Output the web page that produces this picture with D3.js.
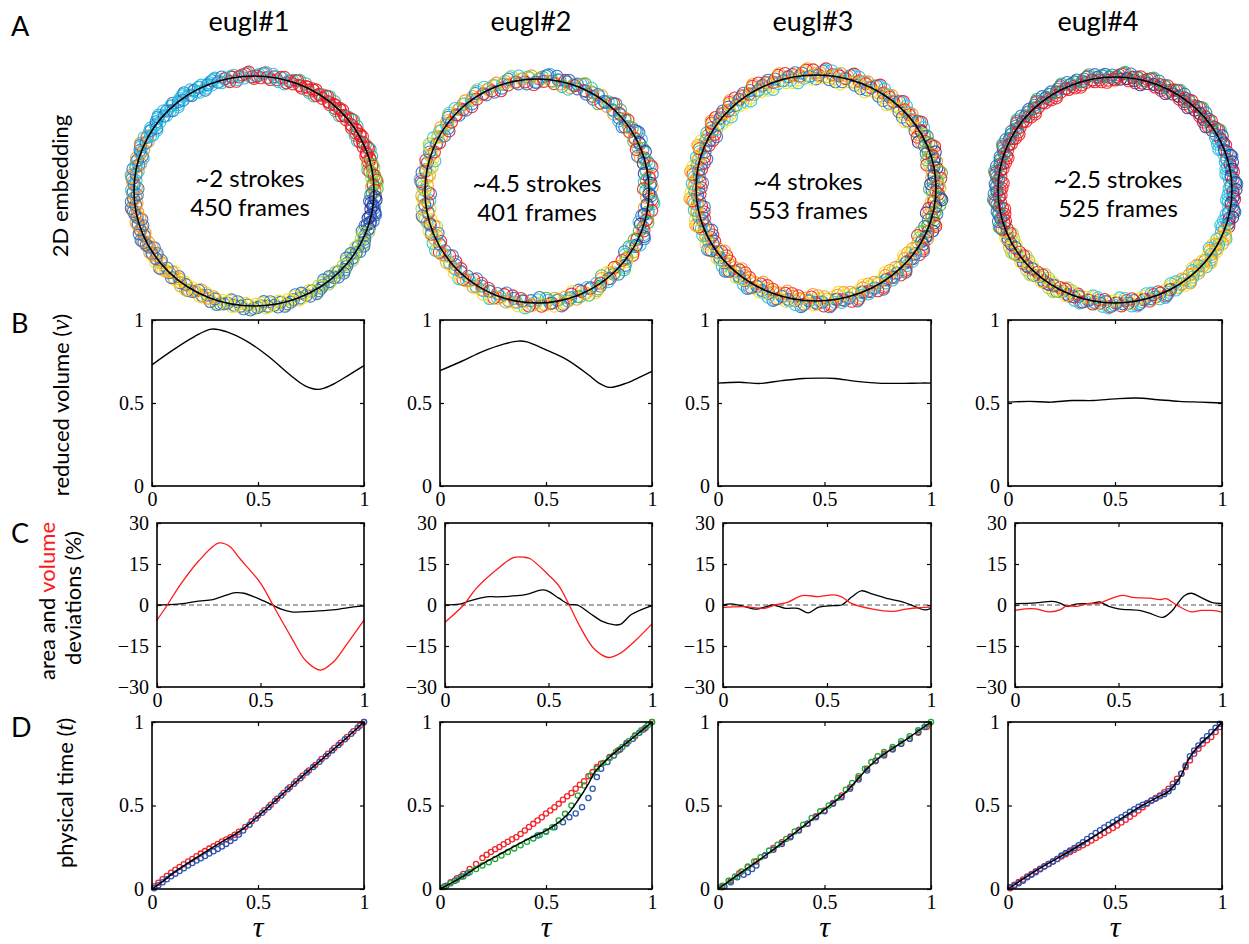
<!DOCTYPE html>
<html>
<head>
<meta charset="utf-8">
<script src="https://cdn.jsdelivr.net/npm/d3@7"></script>
<style>
  body { margin: 0; background: #fff; }
</style>
</head>
<body>
<div class="chart"></div>
<script>
var w = 1249;
var h = 944;

// ---- data ----
var names = ["eugl#1", "eugl#2", "eugl#3", "eugl#4"];
var strokeText = ["~2 strokes", "~4.5 strokes", "~4 strokes", "~2.5 strokes"];
var frames = [450, 401, 553, 525];

// ring colours by angular sector (deg clockwise from top), letters map to colours below
var ringSectors1 = [[0,20,"RC"],[20,75,"RRRS"],[75,92,"GRL"],[92,110,"DB"],[110,150,"LB"],[150,200,"YB"],[200,235,"YOB"],[235,270,"OB"],[270,300,"BOC"],[300,345,"CCB"],[345,360,"CR"]];
var ringSectors2 = [[0,60,"BCOGRB"],[60,120,"DBORGC"],[120,180,"RBCGOY"],[180,240,"RYCOB"],[240,300,"RCYLOB"],[300,360,"BCLOR"]];
var ringSectors3 = [[0,60,"BCROY"],[60,120,"LGBDOR"],[120,180,"ORBCY"],[180,240,"RCBYO"],[240,300,"RYOCB"],[300,360,"YROBC"]];
var ringSectors4 = [[0,60,"RBGRD"],[60,110,"CDBRC"],[110,150,"OYC"],[150,200,"YBRC"],[200,250,"RBYL"],[250,360,"RBGBR"]];
var ringJitter = [-3, 2, 4, -1, 1, -4, 3, 0, -2, 5, -3, 1, 2, -5, 0, 3, -1, 4, -2, 1];
var ringSpread = [0.8, 1.1, 1.3, 1.0];

// B: reduced volume vs tau
var volume1 = [[0,0.73],[0.1,0.82],[0.2,0.9],[0.28,0.945],[0.35,0.93],[0.45,0.87],[0.55,0.78],[0.65,0.67],[0.72,0.605],[0.785,0.582],[0.85,0.61],[0.93,0.67],[1,0.725]];
var volume2 = [[0,0.695],[0.1,0.75],[0.2,0.81],[0.3,0.855],[0.37,0.873],[0.41,0.868],[0.5,0.82],[0.6,0.76],[0.7,0.67],[0.75,0.62],[0.8,0.594],[0.88,0.62],[0.95,0.66],[1,0.69]];
var volume3 = [[0,0.62],[0.1,0.625],[0.2,0.618],[0.3,0.635],[0.4,0.648],[0.5,0.65],[0.55,0.648],[0.65,0.63],[0.75,0.62],[0.85,0.618],[0.95,0.62],[1,0.62]];
var volume4 = [[0,0.505],[0.1,0.51],[0.2,0.505],[0.3,0.515],[0.4,0.515],[0.5,0.525],[0.6,0.53],[0.7,0.52],[0.8,0.51],[0.9,0.505],[1,0.5]];

// C: area (black) and volume (red) deviations in %
var area1 = [[0,0],[0.1,0.3],[0.2,1.4],[0.27,2],[0.33,3.5],[0.38,4.5],[0.42,4.3],[0.5,2],[0.55,0.3],[0.6,-1.5],[0.65,-2.5],[0.75,-2.3],[0.85,-1.8],[0.95,-0.7],[1,-0.3]];
var vol1 = [[0,-5.5],[0.05,0],[0.1,6],[0.2,16],[0.3,22.7],[0.35,21.5],[0.4,17],[0.5,8],[0.56,0],[0.65,-12],[0.72,-20.5],[0.79,-23.8],[0.85,-21],[0.92,-14],[1,-5.5]];
var area2 = [[0,0],[0.07,0.3],[0.12,1.5],[0.2,3],[0.25,3],[0.35,3.4],[0.4,4],[0.47,5.5],[0.5,5],[0.55,2.5],[0.6,0.2],[0.64,0],[0.7,-3],[0.76,-6],[0.82,-7.3],[0.85,-7],[0.9,-3.5],[1,-0.2]];
var vol2 = [[0,-6.3],[0.09,0],[0.15,6],[0.25,13],[0.33,17.3],[0.38,17.5],[0.41,17],[0.5,11],[0.55,7],[0.6,0],[0.66,-9],[0.72,-16],[0.79,-19.2],[0.85,-17.5],[0.92,-13],[1,-6.9]];
var area3 = [[0,0],[0.04,0.4],[0.1,-0.5],[0.16,-1.5],[0.2,-0.8],[0.24,0],[0.3,-1.2],[0.36,-1.2],[0.41,-2.9],[0.46,-0.8],[0.53,-0.2],[0.57,0],[0.62,3],[0.665,5.2],[0.72,4],[0.8,2.2],[0.87,1],[0.93,-0.8],[0.97,-1.8],[1,-1.2]];
var vol3 = [[0,-0.9],[0.1,-0.6],[0.2,-1.2],[0.25,0],[0.31,1],[0.38,3.4],[0.46,3.1],[0.53,3.7],[0.57,3],[0.62,0.5],[0.72,-1.5],[0.815,-2.3],[0.88,-1.5],[0.94,-1],[1,-0.8]];
var area4 = [[0,0.5],[0.1,0.8],[0.18,1.3],[0.22,0.6],[0.25,-0.5],[0.3,0.4],[0.37,0.6],[0.41,1.1],[0.45,-0.4],[0.5,-1.4],[0.6,-2],[0.65,-3],[0.715,-4.5],[0.76,-2],[0.78,0],[0.82,3.5],[0.852,4.3],[0.9,2.7],[0.95,1],[1,0.6]];
var vol4 = [[0,-2],[0.05,-1.4],[0.1,-1.4],[0.17,-2.5],[0.22,-1.7],[0.25,-0.3],[0.3,-0.5],[0.35,0.5],[0.4,0.5],[0.42,1],[0.47,2.5],[0.52,3.5],[0.57,2.8],[0.65,2.5],[0.7,2],[0.73,2.3],[0.78,0],[0.85,-2.5],[0.9,-2],[0.95,-2],[1,-2.6]];

// D: physical time vs tau (fit line + scattered frames)
var fit1 = [[0,0],[0.05,0.045],[0.1,0.095],[0.2,0.18],[0.3,0.26],[0.4,0.335],[0.43,0.36],[0.5,0.435],[0.6,0.55],[0.7,0.665],[0.8,0.775],[0.9,0.885],[1,1]];
var red1 = [[0.01,0.015],[0.03,0.038],[0.05,0.058],[0.07,0.078],[0.09,0.097],[0.11,0.115],[0.13,0.132],[0.15,0.148],[0.17,0.165],[0.19,0.18],[0.21,0.196],[0.23,0.212],[0.25,0.227],[0.27,0.242],[0.29,0.256],[0.31,0.27],[0.33,0.284],[0.35,0.297],[0.37,0.31],[0.39,0.325],[0.41,0.343],[0.44,0.372],[0.47,0.405],[0.5,0.44],[0.53,0.472],[0.56,0.505],[0.59,0.54],[0.62,0.575],[0.65,0.61],[0.68,0.645],[0.71,0.678],[0.74,0.71],[0.77,0.742],[0.8,0.778],[0.83,0.81],[0.86,0.845],[0.89,0.876],[0.92,0.91],[0.95,0.945],[0.98,0.978],[1,1]];
var blue1 = [[0.01,0.004],[0.03,0.022],[0.05,0.04],[0.07,0.058],[0.09,0.076],[0.11,0.092],[0.13,0.108],[0.15,0.124],[0.17,0.14],[0.19,0.155],[0.21,0.17],[0.23,0.184],[0.25,0.198],[0.27,0.212],[0.29,0.226],[0.31,0.24],[0.33,0.255],[0.35,0.27],[0.37,0.288],[0.39,0.306],[0.41,0.326],[0.43,0.35],[0.46,0.385],[0.49,0.422],[0.52,0.457],[0.55,0.49],[0.58,0.527],[0.61,0.56],[0.64,0.597],[0.67,0.63],[0.7,0.663],[0.73,0.697],[0.76,0.73],[0.79,0.762],[0.82,0.795],[0.85,0.83],[0.88,0.863],[0.91,0.897],[0.94,0.93],[0.97,0.965],[1,1]];

var fit2 = [[0,0],[0.1,0.07],[0.2,0.15],[0.3,0.22],[0.4,0.29],[0.5,0.35],[0.55,0.39],[0.6,0.445],[0.65,0.53],[0.7,0.63],[0.73,0.7],[0.8,0.79],[0.9,0.895],[1,1]];
var red2 = [[0.02,0.015],[0.05,0.04],[0.08,0.065],[0.11,0.09],[0.14,0.12],[0.17,0.15],[0.2,0.185],[0.22,0.205],[0.24,0.222],[0.26,0.238],[0.28,0.252],[0.3,0.268],[0.32,0.283],[0.34,0.298],[0.36,0.31],[0.38,0.33],[0.4,0.35],[0.42,0.372],[0.44,0.39],[0.46,0.41],[0.48,0.43],[0.5,0.452],[0.52,0.47],[0.54,0.49],[0.56,0.51],[0.58,0.535],[0.6,0.555],[0.62,0.575],[0.64,0.6],[0.66,0.625],[0.68,0.645],[0.7,0.675],[0.72,0.7],[0.74,0.73],[0.76,0.75],[0.8,0.79],[0.84,0.83],[0.88,0.875],[0.92,0.915],[0.96,0.955],[1,1]];
var blue2 = [[0.03,0.02],[0.07,0.05],[0.1,0.075],[0.13,0.095],[0.46,0.32],[0.5,0.345],[0.54,0.37],[0.58,0.4],[0.61,0.43],[0.64,0.452],[0.67,0.49],[0.7,0.545],[0.72,0.6],[0.74,0.67],[0.76,0.72],[0.79,0.76],[0.82,0.8],[0.85,0.835],[0.88,0.87],[0.91,0.9],[0.94,0.935],[0.97,0.965]];
var green2 = [[0.02,0.012],[0.05,0.035],[0.08,0.055],[0.11,0.075],[0.14,0.1],[0.17,0.12],[0.2,0.14],[0.23,0.16],[0.26,0.18],[0.29,0.2],[0.32,0.222],[0.35,0.243],[0.38,0.262],[0.41,0.283],[0.44,0.303],[0.47,0.323],[0.5,0.343],[0.53,0.37],[0.56,0.41],[0.59,0.45],[0.62,0.5],[0.65,0.56],[0.68,0.62],[0.71,0.68],[0.74,0.72],[0.77,0.755],[0.8,0.785],[0.83,0.82],[0.86,0.85],[0.89,0.885],[0.92,0.92],[0.95,0.95],[0.98,0.98],[1,1]];

var fit3 = [[0,0],[0.1,0.09],[0.2,0.18],[0.3,0.275],[0.4,0.375],[0.5,0.475],[0.6,0.58],[0.7,0.72],[0.75,0.78],[0.8,0.825],[0.9,0.91],[1,1]];
var red3 = [[0.02,0.01],[0.06,0.05],[0.1,0.095],[0.14,0.13],[0.18,0.165],[0.22,0.2],[0.26,0.245],[0.3,0.28],[0.34,0.315],[0.38,0.355],[0.42,0.39],[0.46,0.435],[0.5,0.47],[0.54,0.515],[0.58,0.56],[0.62,0.61],[0.66,0.665],[0.7,0.72],[0.74,0.77],[0.78,0.81],[0.82,0.84],[0.86,0.87],[0.9,0.9],[0.94,0.935],[0.98,0.97]];
var blue3 = [[0.03,0.015],[0.06,0.04],[0.09,0.07],[0.12,0.085],[0.14,0.1],[0.16,0.12],[0.18,0.14],[0.22,0.2],[0.26,0.235],[0.3,0.27],[0.34,0.31],[0.38,0.35],[0.42,0.39],[0.46,0.43],[0.5,0.465],[0.54,0.51],[0.58,0.55],[0.62,0.6],[0.66,0.655],[0.7,0.71],[0.74,0.765],[0.78,0.8],[0.82,0.835],[0.86,0.87],[0.9,0.9],[0.94,0.94],[0.97,0.97]];
var green3 = [[0.02,0.02],[0.05,0.05],[0.08,0.075],[0.11,0.105],[0.14,0.135],[0.17,0.165],[0.2,0.19],[0.24,0.23],[0.28,0.265],[0.32,0.3],[0.36,0.345],[0.4,0.385],[0.44,0.425],[0.48,0.465],[0.52,0.5],[0.56,0.545],[0.6,0.595],[0.63,0.635],[0.66,0.675],[0.69,0.72],[0.72,0.76],[0.75,0.795],[0.78,0.82],[0.82,0.85],[0.86,0.885],[0.9,0.915],[0.94,0.95],[0.98,0.985],[1,1]];

var fit4 = [[0,0],[0.15,0.125],[0.3,0.235],[0.45,0.355],[0.6,0.48],[0.7,0.55],[0.75,0.585],[0.8,0.66],[0.85,0.79],[0.9,0.87],[0.95,0.93],[1,1]];
var red4 = [[0.01,0.005],[0.03,0.025],[0.05,0.042],[0.07,0.057],[0.09,0.075],[0.11,0.09],[0.13,0.107],[0.15,0.122],[0.17,0.136],[0.19,0.15],[0.21,0.165],[0.23,0.18],[0.25,0.195],[0.27,0.208],[0.29,0.222],[0.31,0.235],[0.33,0.248],[0.35,0.262],[0.37,0.275],[0.39,0.29],[0.41,0.305],[0.43,0.32],[0.45,0.335],[0.47,0.35],[0.49,0.365],[0.51,0.38],[0.53,0.398],[0.55,0.415],[0.57,0.432],[0.59,0.45],[0.61,0.47],[0.63,0.49],[0.65,0.51],[0.67,0.53],[0.69,0.545],[0.71,0.56],[0.73,0.58],[0.75,0.6],[0.77,0.63],[0.79,0.66],[0.81,0.69],[0.83,0.73],[0.85,0.77],[0.87,0.81],[0.89,0.84],[0.91,0.87],[0.93,0.89],[0.95,0.91],[0.97,0.94],[0.99,0.97]];
var blue4 = [[0.01,0.01],[0.03,0.02],[0.05,0.035],[0.07,0.05],[0.09,0.07],[0.11,0.085],[0.13,0.1],[0.15,0.118],[0.17,0.135],[0.19,0.15],[0.21,0.165],[0.23,0.18],[0.25,0.2],[0.27,0.215],[0.29,0.23],[0.31,0.245],[0.33,0.262],[0.35,0.28],[0.37,0.3],[0.39,0.318],[0.41,0.335],[0.43,0.352],[0.45,0.368],[0.47,0.385],[0.49,0.4],[0.51,0.415],[0.53,0.43],[0.55,0.445],[0.57,0.462],[0.59,0.478],[0.61,0.492],[0.63,0.505],[0.65,0.515],[0.67,0.528],[0.69,0.54],[0.71,0.555],[0.73,0.568],[0.75,0.585],[0.77,0.61],[0.79,0.64],[0.81,0.69],[0.83,0.74],[0.85,0.795],[0.87,0.83],[0.89,0.86],[0.91,0.89],[0.93,0.915],[0.95,0.94],[0.97,0.965],[0.99,0.99]];

var ticks01 = [0, 0.5, 1];
var ticksDev = [-30, -15, 0, 15, 30];

// ---- layout ----
var ringColor = {R:"#ec1c24", O:"#f7941d", Y:"#f2dd1a", L:"#a6cf3e", G:"#45b649", S:"#2fb8a0", C:"#26c0e0", B:"#2a6fc4", D:"#2e3192"};
var rings = [
  {cx:254, cy:191, rx:120, ry:115, tx:250, ty:187, sectors:ringSectors1},
  {cx:537, cy:191, rx:112, ry:112, tx:537, ty:192, sectors:ringSectors2},
  {cx:816, cy:188, rx:120, ry:113, tx:808, ty:190, sectors:ringSectors3},
  {cx:1115, cy:190, rx:117, ry:113, tx:1118, ty:188, sectors:ringSectors4}
];
var colRight = [364, 652, 931, 1222];
var colLeft = [152, 440, 718, 1008];
var colLeftC = [157, 445, 723, 1015];
var titleX = [249, 531, 813, 1098];

var sans = "Lato, 'Open Sans', sans-serif";
var serif = "'Liberation Serif', 'DejaVu Serif', serif";

var svg = d3.select(".chart").append("svg")
    .attr("width", w)
    .attr("height", h)
    .style("background", "#fff");

// panel letters
[["A",36],["B",333],["C",543],["D",737]].forEach(function(d){
    svg.append("text").attr("x", 11).attr("y", d[1]).text(d[0])
        .attr("font-family", sans).attr("font-size", "27px");
});

// column titles
names.forEach(function(n, i){
    svg.append("text").attr("x", titleX[i]).attr("y", 31).attr("text-anchor", "middle")
        .attr("font-family", sans).attr("font-size", "27px").text(n);
});

// row labels (rotated)
function vlabel(x, y){
    return svg.append("text").attr("transform", "translate(" + x + "," + y + ") rotate(-90)")
        .attr("text-anchor", "middle").attr("font-family", sans).attr("font-size", "22px");
}
vlabel(68, 186).text("2D embedding");
var rv = vlabel(69, 405);
rv.append("tspan").text("reduced volume (");
rv.append("tspan").attr("font-family", serif).attr("font-style", "italic").attr("font-size", "25px").text("v");
rv.append("tspan").text(")");
var c1 = vlabel(55, 601);
c1.append("tspan").text("area and ");
c1.append("tspan").attr("fill", "#ff1a1a").text("volume");
vlabel(81, 598).text("deviations (%)");
var pt = vlabel(73, 793);
pt.append("tspan").text("physical time (");
pt.append("tspan").attr("font-family", serif).attr("font-style", "italic").attr("font-size", "25px").text("t");
pt.append("tspan").text(")");

// ---- row A: 2D embedding rings ----
var angle = d3.scaleLinear().domain([0, 360]).range([0, 2 * Math.PI]);
rings.forEach(function(r, k){
    var n = frames[k];
    var pts = [];
    for (var i = 0; i < n; i++) {
        var deg = i * 360 / n;
        var sec = r.sectors.find(function(s){ return deg >= s[0] && deg < s[1]; }) || r.sectors[0];
        var col = ringColor[sec[2][i % sec[2].length]];
        var off = ringJitter[(i * 7) % ringJitter.length] * ringSpread[k];
        pts.push({a: angle(deg), off: off, c: col});
    }
    var g = svg.append("g");
    g.selectAll("circle").data(pts).enter().append("circle")
        .attr("cx", function(d){ return r.cx + (r.rx + d.off) * Math.sin(d.a); })
        .attr("cy", function(d){ return r.cy - (r.ry + d.off) * Math.cos(d.a); })
        .attr("r", 6)
        .attr("fill", "none")
        .attr("stroke", function(d){ return d.c; })
        .attr("stroke-width", 1.1)
        .attr("stroke-opacity", 0.9);
    g.append("ellipse").attr("cx", r.cx).attr("cy", r.cy).attr("rx", r.rx).attr("ry", r.ry)
        .attr("fill", "none").attr("stroke", "#000").attr("stroke-width", 1.6);
    g.append("text").attr("x", r.tx).attr("y", r.ty).attr("text-anchor", "middle")
        .attr("font-family", sans).attr("font-size", "24px").text(strokeText[k]);
    g.append("text").attr("x", r.tx).attr("y", r.ty + 29).attr("text-anchor", "middle")
        .attr("font-family", sans).attr("font-size", "24px").text(frames[k] + " frames");
});

// ---- axes helper ----
function panel(x0, x1, y0, y1, ydom, yticks){
    var x = d3.scaleLinear().domain([0, 1]).range([x0, x1]);
    var y = d3.scaleLinear().domain(ydom).range([y1, y0]);
    var g = svg.append("g");
    function style(a){
        a.select(".domain").remove();
        a.selectAll("line").attr("stroke", "#000").attr("stroke-width", 1.2);
        a.selectAll("text").attr("font-family", serif).attr("font-size", "20px").attr("fill", "#000");
    }
    g.append("g").attr("transform", "translate(0," + y1 + ")")
        .call(d3.axisBottom(x).tickValues(ticks01).tickSize(-4).tickPadding(6).tickFormat(d3.format("")))
        .call(style);
    g.append("g").attr("transform", "translate(0," + y0 + ")")
        .call(d3.axisTop(x).tickValues(ticks01).tickSize(-4).tickFormat(""))
        .call(style);
    g.append("g").attr("transform", "translate(" + x0 + ",0)")
        .call(d3.axisLeft(y).tickValues(yticks).tickSize(-4).tickPadding(8).tickFormat(d3.format("")))
        .call(style);
    g.append("g").attr("transform", "translate(" + x1 + ",0)")
        .call(d3.axisRight(y).tickValues(yticks).tickSize(-4).tickFormat(""))
        .call(style);
    g.append("rect").attr("x", x0).attr("y", y0).attr("width", x1 - x0).attr("height", y1 - y0)
        .attr("fill", "none").attr("stroke", "#000").attr("stroke-width", 1.6);
    return {g: g, x: x, y: y};
}

function curve(p, data, color, wdt){
    var line = d3.line().x(function(d){ return p.x(d[0]); }).y(function(d){ return p.y(d[1]); })
        .curve(d3.curveCatmullRom.alpha(0.5));
    p.g.insert("path", "rect").datum(data).attr("d", line)
        .attr("fill", "none").attr("stroke", color).attr("stroke-width", wdt);
}

function scatter(p, data, color){
    p.g.insert("g", "rect").selectAll("circle").data(data).enter().append("circle")
        .attr("cx", function(d){ return p.x(d[0]); })
        .attr("cy", function(d){ return p.y(d[1]); })
        .attr("r", 2.6)
        .attr("fill", "none")
        .attr("stroke", color)
        .attr("stroke-width", 1.3);
}

var volumes = [volume1, volume2, volume3, volume4];
var areas = [area1, area2, area3, area4];
var vols = [vol1, vol2, vol3, vol4];
var fits = [fit1, fit2, fit3, fit4];
var scatters = [
    [[red1, "#f5252a"], [blue1, "#2c55b4"]],
    [[red2, "#f5252a"], [blue2, "#2c55b4"], [green2, "#1faa35"]],
    [[red3, "#f5252a"], [blue3, "#2c55b4"], [green3, "#1faa35"]],
    [[red4, "#f5252a"], [blue4, "#2c55b4"]]
];

for (var k = 0; k < 4; k++) {
    // B
    var pb = panel(colLeft[k], colRight[k], 320, 486, [0, 1], ticks01);
    curve(pb, volumes[k], "#000", 1.4);

    // C
    var pc = panel(colLeftC[k], colRight[k], 523, 687, [-30, 30], ticksDev);
    pc.g.insert("line", "rect").attr("x1", pc.x(0)).attr("x2", pc.x(1))
        .attr("y1", pc.y(0)).attr("y2", pc.y(0))
        .attr("stroke", "#555").attr("stroke-width", 1.2).attr("stroke-dasharray", "5,3");
    curve(pc, areas[k], "#000", 1.3);
    curve(pc, vols[k], "#ff1a1a", 1.3);

    // D
    var pd = panel(colLeft[k], colRight[k], 722, 889, [0, 1], ticks01);
    scatters[k].forEach(function(s){ scatter(pd, s[0], s[1]); });
    curve(pd, fits[k], "#000", 1.5);
    svg.append("text").attr("x", (colLeft[k] + colRight[k]) / 2).attr("y", 937)
        .attr("text-anchor", "middle").attr("font-family", serif).attr("font-style", "italic")
        .attr("font-size", "30px").text("\u03C4");
}
</script>
</body>
</html>
